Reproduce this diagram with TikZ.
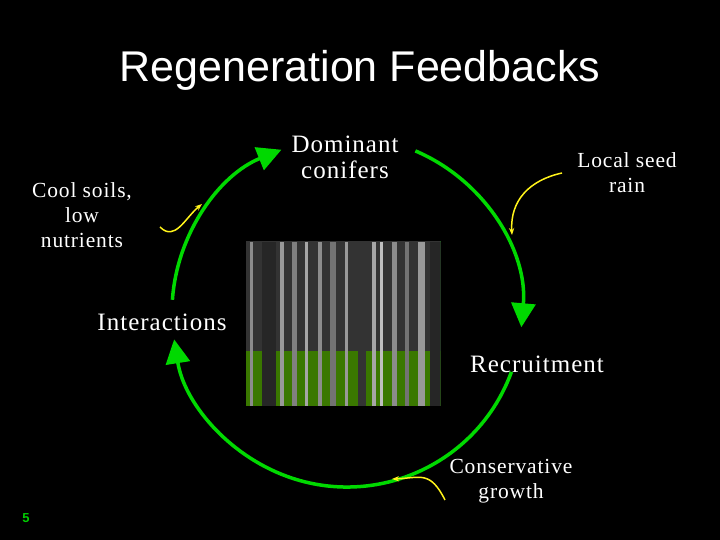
\documentclass[tikz,border=0pt]{standalone}
\usepackage{fontspec}
\setmainfont{Liberation Serif}[LetterSpace=4]
\newfontfamily\titlefont{Liberation Sans}
\begin{document}
\begin{tikzpicture}[x=1pt,y=1pt,
  lbl/.style={text=white,font=\fontsize{25}{26}\selectfont,align=center},
  ylbl/.style={text=white,font=\fontsize{21.5}{25}\selectfont,align=center},
  cyc/.style={draw=green!85!black,line width=3.5pt,-{Triangle[length=24pt,width=24pt]}},
  side/.style={draw=yellow!90!white,line width=1.5pt,-{Stealth[length=7pt]}}]
\usetikzlibrary{arrows.meta}
\fill[black] (0,0) rectangle (720,540);
\node[text=white,font=\titlefont\fontsize{43}{45}\selectfont] (title) at (360,470) {Regeneration Feedbacks};
\node[lbl] (dom) at (345,383) {Dominant\\conifers};
\node[lbl] (rec) at (537,176) {Recruitment};
\node[lbl] (int) at (162,218) {Interactions};
\node[ylbl] (cool) at (82,325) {Cool soils,\\low\\nutrients};
\node[ylbl] (seed) at (627,367) {Local seed\\rain};
\node[ylbl] (cons) at (511,59) {Conservative\\growth};
\node[text=green!80!black,font=\titlefont\bfseries\fontsize{13}{14}\selectfont] (num) at (26,22) {5};
% photo
\node[draw=green!60!black,line width=1pt,fill=black!75!green,minimum width=194pt,minimum height=164pt,inner sep=0pt] (photo) at (343,216) {};
\begin{scope}
\clip (photo.south west) rectangle (photo.north east);
\fill[green!35!olive!70!black] (photo.south west) rectangle ([yshift=55pt]photo.south east);
\fill[gray!40!black] ([yshift=55pt]photo.south west) rectangle (photo.north east);
\foreach \x/\w/\c in {250/3/45,262/14/85,280/4/40,292/5/50,305/3/35,318/4/45,330/6/55,345/3/40,358/8/80,372/4/35,380/3/25,392/5/45,405/4/55,418/7/40,430/14/85}
  \fill[black!\c!white] (\x,134) rectangle ++(\w,164);
\end{scope}
% cycle arcs (center 347,228 radius 175)
\draw[cyc] (347,228) ++(176:175) arc[start angle=176,end angle=112,radius=175];
\draw[cyc] (347,228) ++(67:175) arc[start angle=67,end angle=-5,radius=175];
\draw[cyc] (347,228) ++(-20:175) arc[start angle=-20,end angle=-171,radius=175];
% side arrows
\coordinate (c1) at (202,336);
\coordinate (c2) at (512,305);
\coordinate (c3) at (392,61);
\draw[side] (160,313) .. controls (175,298) and (185,322) .. (c1);
\draw[side] (562,367) .. controls (530,360) and (510,340) .. (c2);
\draw[side] (445,40) .. controls (430,70) and (420,62) .. (c3);
\end{tikzpicture}
\end{document}
